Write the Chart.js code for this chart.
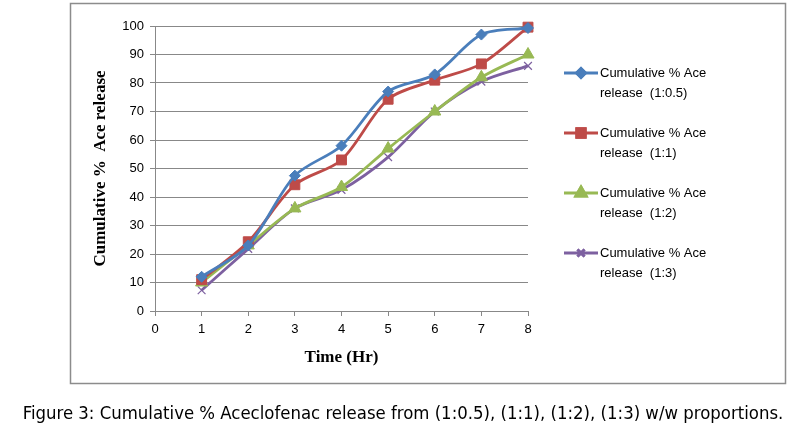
<!DOCTYPE html>
<html>
<head>
<meta charset="utf-8">
<script src="https://cdn.jsdelivr.net/npm/chart.js@4/dist/chart.umd.min.js"></script>
<style>
  body { margin: 0; background: #fff; }
  #wrap { position: relative; width: 788px; height: 439px; }
  #c { position: absolute; left: 0; top: 0; }
  #caption {
    position: absolute; left: 9px; top: 402px; width: 788px; text-align: center;
    font-family: "Liberation Sans Narrow", "DejaVu Sans Condensed", sans-serif;
    font-size: 18.4px; color: #000; white-space: nowrap;
  }
</style>
</head>
<body>
<div id="wrap">
  <canvas id="c" width="788" height="439"></canvas>
  <div id="caption">Figure 3: Cumulative % Aceclofenac release from (1:0.5), (1:1), (1:2), (1:3) w/w proportions.</div>
</div>
<script>
// time points (Hr)
var hours = [1, 2, 3, 4, 5, 6, 7, 8];
// cumulative % release
var ratio05 = [12, 23, 47.5, 58, 77, 83, 97, 99.3];
var ratio1  = [11, 24.3, 44.3, 53, 74.3, 81, 86.7, 99.6];
var ratio2  = [10, 23, 36, 43.5, 57, 70, 82, 90];
var ratio3  = [7.3, 21.8, 36, 42.5, 54, 70, 80.5, 86];
var seriesNames = ['Cumulative % Ace release  (1:0.5)', 'Cumulative % Ace release  (1:1)',
                   'Cumulative % Ace release  (1:2)', 'Cumulative % Ace release  (1:3)'];
var yTicks = [0, 10, 20, 30, 40, 50, 60, 70, 80, 90, 100];

function pts(vals) {
  return hours.map(function (h, i) { return { x: h, y: vals[i] }; });
}

function series(label, vals, color, style, radius, legendRadius) {
  return {
    label: label,
    data: pts(vals),
    borderColor: color,
    backgroundColor: color,
    borderWidth: 2.8,
    pointStyle: style,
    pointRadius: radius,
    legendRadius: legendRadius,
    pointBorderWidth: style === 'crossRot' ? 1.2 : 1,
    tension: 0.3,
    clip: false
  };
}

// box around the chart + custom two-line legend
var boxLegend = {
  id: 'boxLegend',
  beforeDraw: function (chart) {
    var c = chart.ctx;
    c.save();
    c.fillStyle = '#fff';
    c.fillRect(0, 0, chart.width, chart.height);
    c.strokeStyle = '#8c8c8c';
    c.lineWidth = 1.5;
    c.strokeRect(70.5, 3.5, 715, 380);
    c.restore();
  },
  afterDraw: function (chart) {
    var c = chart.ctx;
    c.save();
    c.font = '13px "Liberation Sans", Arial, sans-serif';
    c.textBaseline = 'middle';
    chart.data.datasets.forEach(function (ds, i) {
      var y = 73 + i * 60;
      c.strokeStyle = ds.borderColor;
      c.lineWidth = 2.8;
      c.beginPath();
      c.moveTo(564, y);
      c.lineTo(598, y);
      c.stroke();
      Chart.helpers.drawPoint(c, {
        pointStyle: ds.pointStyle, radius: ds.legendRadius, rotation: 0,
        borderWidth: ds.pointBorderWidth
      }, 581, y);
      c.fillStyle = ds.borderColor;
      c.strokeStyle = ds.borderColor;
      c.fill();
      c.stroke();
      var parts = ds.label.split('release');
      c.fillStyle = '#000';
      c.fillText(parts[0].trim(), 600, y);
      c.fillText('release' + parts[1], 600, y + 20);
    });
    c.restore();
  }
};

new Chart(document.getElementById('c'), {
  type: 'line',
  data: {
    datasets: [
      series(seriesNames[0], ratio05, '#4A7EBB', 'rectRot', 5.5, 4.5),
      series(seriesNames[1], ratio1, '#BE4B48', 'rect', 7, 6),
      series(seriesNames[2], ratio2, '#98B954', 'triangle', 7, 6),
      series(seriesNames[3], ratio3, '#7D60A0', 'crossRot', 5.5, 5)
    ]
  },
  options: {
    responsive: false,
    animation: false,
    layout: { padding: { left: 80, top: 26, right: 260, bottom: 56 } },
    plugins: { legend: { display: false }, tooltip: { enabled: false } },
    scales: {
      x: {
        type: 'linear', min: 0, max: 8,
        afterFit: function (s) { s.height = 72; },
        ticks: { stepSize: 1, color: '#000', padding: 6,
                 font: { family: '"Liberation Sans", Arial, sans-serif', size: 13 } },
        grid: { drawOnChartArea: false, drawTicks: true, tickLength: 5, color: '#888' },
        border: { color: '#888', width: 1 },
        title: { display: true, text: 'Time (Hr)', color: '#000', padding: { top: 0, bottom: 15 },
                 font: { family: '"Liberation Serif", "Times New Roman", serif', size: 17, weight: 'bold' } }
      },
      y: {
        min: 0, max: 100,
        afterFit: function (s) { s.width = 75; },
        afterBuildTicks: function (s) { s.ticks = yTicks.map(function (v) { return { value: v }; }); },
        ticks: { color: '#000', padding: 6,
                 font: { family: '"Liberation Sans", Arial, sans-serif', size: 13 } },
        grid: { color: '#888', tickLength: 5 },
        border: { color: '#888', width: 1 },
        title: { display: true, text: 'Cumulative %  Ace release', color: '#000', padding: { top: 10, bottom: 0 },
                 font: { family: '"Liberation Serif", "Times New Roman", serif', size: 17, weight: 'bold' } }
      }
    }
  },
  plugins: [boxLegend]
});
</script>
</body>
</html>
